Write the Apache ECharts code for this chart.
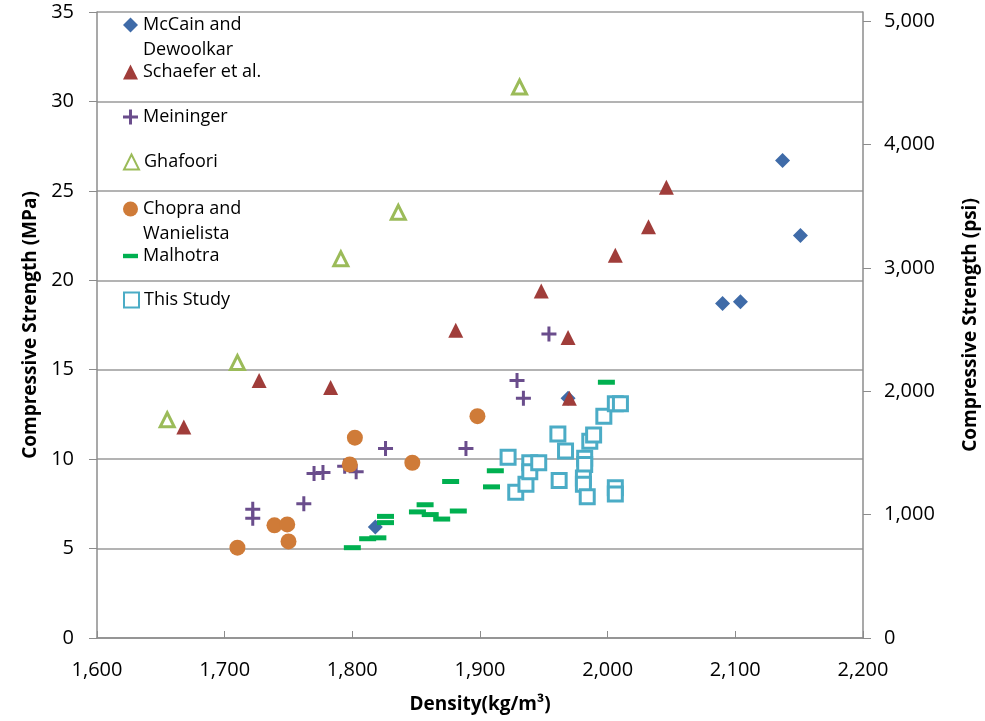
<!DOCTYPE html>
<html><head><meta charset="utf-8">
<script src="https://cdn.jsdelivr.net/npm/echarts@6/dist/echarts.min.js"></script>
<style>html,body{margin:0;padding:0;background:#fff}#c{width:985px;height:721px}</style>
</head><body><div id="c"></div>
<script>
// Density (kg/m3), Compressive strength (MPa)
const mccain = [[1818,6.2],[1969,13.4],[2090,18.7],[2104,18.8],[2137,26.7],[2151,22.5]];
const schaefer = [[1668,11.8],[1727,14.4],[1783,14.0],[1881,17.2],[1948,19.4],[1969,16.8],[1970,13.4],[2006,21.4],[2032,23.0],[2046,25.2]];
const meininger = [[1722,7.2],[1722,6.7],[1762,7.5],[1770,9.2],[1777,9.25],[1794,9.6],[1803,9.3],[1826,10.6],[1889,10.6],[1929,14.4],[1934,13.4],[1954,17.0]];
const ghafoori = [[1655,12.2],[1710,15.4],[1791,21.2],[1836,23.8],[1931,30.8]];
const chopra = [[1710,5.05],[1739,6.3],[1749,6.35],[1750,5.4],[1798,9.7],[1802,11.2],[1847,9.8],[1898,12.4]];
const malhotra = [[1800,5.05],[1812,5.55],[1820,5.6],[1826,6.8],[1826,6.45],[1851,7.05],[1857,7.45],[1861,6.9],[1870,6.65],[1877,8.75],[1883,7.1],[1909,8.45],[1912,9.35],[1999,14.3]];
const thisStudy = [[1922,10.1],[1928,8.15],[1936,8.6],[1939,9.8],[1939,9.3],[1946,9.8],[1961,11.4],[1967,10.45],[1962,8.8],[1982,10.05],[1982,9.7],[1981,8.95],[1981,8.6],[1984,7.9],[1986,11.0],[1989,11.35],[1997,12.4],[2006,13.1],[2010,13.1],[2006,8.4],[2006,8.05]];

const xTicks = [1600,1700,1800,1900,2000,2100,2200];
const mpaTicks = [0,5,10,15,20,25,30,35];
const psiTicks = [0,1000,2000,3000,4000,5000];
const MPA_TO_PSI = 145.0377;

const FONT = 'Open Sans';
const PLUS = 'path://M4,0H6V4H10V6H6V10H4V6H0V4H4Z';
const DASH = 'path://M0,0H17V5H0Z';

const seriesDefs = [
  {name:'McCain and Dewoolkar', label:' \nMcCain and\nDewoolkar', data:mccain, symbol:'diamond', size:15, style:{color:'#3F6BA8'}, iconY:25, two:true},
  {name:'Schaefer et al.', label:'Schaefer et al.', data:schaefer, symbol:'triangle', size:15, style:{color:'#A03D3A'}, iconY:72},
  {name:'Meininger', label:'Meininger', data:meininger, symbol:PLUS, size:15, style:{color:'#6A4D8C'}, iconY:117},
  {name:'Ghafoori', label:'Ghafoori', data:ghafoori, symbol:'triangle', size:14, style:{color:'#ffffff', borderColor:'#9BBB59', borderWidth:3}, iconY:162},
  {name:'Chopra and Wanielista', label:' \nChopra and\nWanielista', data:chopra, symbol:'circle', size:16, style:{color:'#CF7B38'}, iconY:209, two:true},
  {name:'Malhotra', label:'Malhotra', data:malhotra, symbol:'rect', size:[17,5], style:{color:'#00B050'}, iconY:256, icon:DASH},
  {name:'This Study', label:'This Study', data:thisStudy, symbol:'rect', size:14, style:{color:'#ffffff', borderColor:'#4BACC6', borderWidth:3}, iconY:300}
];

const LH = 25;
const legends = seriesDefs.map(s => ({
  orient:'vertical', left:123, top: s.two ? s.iconY - 1.5*LH : s.iconY - LH/2,
  padding:0, itemWidth:15, itemHeight:15, itemGap:0, selectedMode:false,
  data:[{name:s.name, icon: s.icon || (s.symbol)}],
  formatter: () => s.label,
  textStyle:{fontFamily:FONT, fontSize:18, color:'#000', lineHeight:LH}
}));

const tickFont = {fontFamily:FONT, fontSize:20, color:'#000'};
const nameFont = {fontFamily:FONT, fontSize:19, fontWeight:'bold', color:'#000'};

const chart = echarts.init(document.getElementById('c'), null, {renderer:'canvas'});
chart.setOption({
  animation:false,
  backgroundColor:'#fff',
  grid:{left:97, right:122, top:12, bottom:83, containLabel:false, outerBoundsMode:'none'},
  legend: legends,
  xAxis:{
    type:'value', min:xTicks[0], max:xTicks[xTicks.length-1], interval:100,
    name:'Density(kg/m³)', nameLocation:'middle', nameGap:57,
    nameTextStyle:nameFont,
    axisLine:{show:true, lineStyle:{color:'#8C8C8C', width:1.5}},
    axisTick:{show:true, inside:true, length:7, lineStyle:{color:'#8C8C8C'}},
    axisLabel:Object.assign({margin:22, formatter:v=>v.toLocaleString('en-US')}, tickFont),
    splitLine:{show:false}
  },
  yAxis:[{
    type:'value', min:mpaTicks[0], max:mpaTicks[mpaTicks.length-1], interval:5, position:'left',
    name:'Compressive Strength (MPa)', nameLocation:'middle', nameRotate:90, nameGap:55,
    nameTextStyle:nameFont,
    axisLine:{show:true, lineStyle:{color:'#8C8C8C', width:1.5}},
    axisTick:{show:true, length:8, lineStyle:{color:'#8C8C8C'}},
    axisLabel:Object.assign({margin:23}, tickFont),
    splitLine:{show:true, lineStyle:{color:'#B3B3B3', width:2}}
  },{
    type:'value', min:0, max:35*MPA_TO_PSI, interval:1000, position:'right',
    name:'Compressive Strength (psi)', nameLocation:'middle', nameRotate:90, nameGap:98,
    nameTextStyle:nameFont,
    axisLine:{show:true, lineStyle:{color:'#8C8C8C', width:1.5}},
    axisTick:{show:true, length:8, lineStyle:{color:'#8C8C8C'}, customValues:psiTicks},
    axisLabel:Object.assign({margin:21, customValues:psiTicks, formatter:v=> (v%1000===0 ? v.toLocaleString('en-US') : '')}, tickFont),
    splitLine:{show:false}
  }],
  series: seriesDefs.map(s => ({
    name:s.name, type:'scatter', xAxisIndex:0, yAxisIndex:0,
    symbol:s.symbol, symbolSize:s.size, itemStyle:Object.assign({opacity:1}, s.style),
    emphasis:{disabled:true}, data:s.data
  }))
});
</script></body></html>
